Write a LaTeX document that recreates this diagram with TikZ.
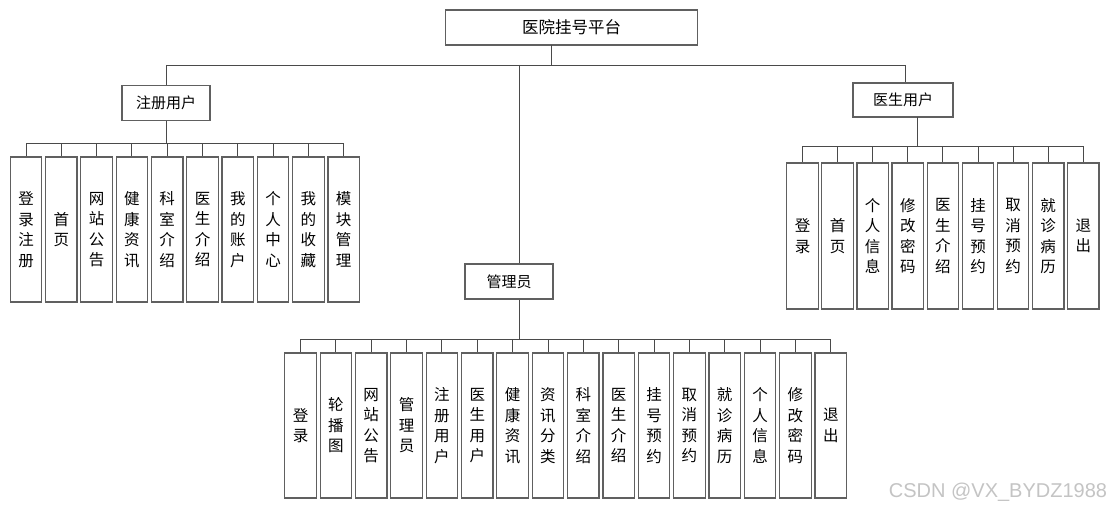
\documentclass[tikz,border=0pt]{standalone}
\usepackage{fontspec}
\setmainfont{Noto Sans CJK SC}
\newfontfamily\wmfont{Liberation Sans}
\begin{document}
\begin{tikzpicture}[x=1pt,y=-1pt,
  box/.style={draw=boxgray,line width=1.2pt,fill=white,inner sep=0pt,align=center},
  hbox/.style={box,font=\fontsize{15pt}{17pt}\selectfont},
  vbox/.style={box,minimum width=31.5pt,font=\fontsize{15.5pt}{20.5pt}\selectfont},
  link/.style={draw=linegray,line width=0.9pt}]
\definecolor{boxgray}{HTML}{606060}
\definecolor{linegray}{HTML}{4A4A4A}
\definecolor{wmgray}{HTML}{C4C4C4}
\fill[white] (0,0) rectangle (1113,511);
\useasboundingbox (0,0) rectangle (1113,511);

% top
\node[hbox,minimum width=252pt,minimum height=35pt,font=\fontsize{16.5pt}{18pt}\selectfont] (top) at (571.7,27.5) {医院挂号平台};
\node[hbox,minimum width=88pt,minimum height=35pt] (reg) at (166,103) {注册用户};
\node[hbox,minimum width=100pt,minimum height=34pt] (doc) at (903,100) {医生用户};
\node[hbox,minimum width=88pt,minimum height=35pt] (adm) at (509,281.5) {管理员};

\coordinate (tdrop) at (551,45);
\coordinate (tbus) at (551,65);
\coordinate (midx) at (519,65);
\coordinate (docx) at (905,65);
\draw[link] (tdrop) -- (tbus);
\draw[link] (reg.north |- tbus) -- (docx);
\draw[link] (reg.north |- tbus) -- (reg.north);
\draw[link] (docx) -- (docx |- doc.north);
\draw[link] (midx) -- (midx |- adm.north);

% registered users
\foreach \t [count=\i] in {{登\\录\\注\\册},{首\\页},{网\\站\\公\\告},{健\\康\\资\\讯},{科\\室\\介\\绍},{医\\生\\介\\绍},{我\\的\\账\\户},{个\\人\\中\\心},{我\\的\\收\\藏},{模\\块\\管\\理}}{
  \node[vbox,minimum height=145pt] (r\i) at ({26+35.3*(\i-1)},229.5) {\t};
}
\coordinate (rbus) at (168,143);
\draw[link] (rbus -| reg.south) -- (reg.south);
\draw[link] (rbus -| r1.north) -- (rbus -| r10.north);
\foreach \i in {1,...,10}{\draw[link] (r\i.north) -- (r\i.north |- rbus);}

% doctor users
\foreach \t [count=\i] in {{登\\录},{首\\页},{个\\人\\信\\息},{修\\改\\密\\码},{医\\生\\介\\绍},{挂\\号\\预\\约},{取\\消\\预\\约},{就\\诊\\病\\历},{退\\出}}{
  \node[vbox,minimum height=146pt] (d\i) at ({802.5+35.1*(\i-1)},236) {\t};
}
\coordinate (ddrop) at (917,117);
\coordinate (dbus) at (917,146);
\draw[link] (ddrop) -- (dbus);
\draw[link] (dbus -| d1.north) -- (dbus -| d9.north);
\foreach \i in {1,...,9}{\draw[link] (d\i.north) -- (d\i.north |- dbus);}

% administrator
\foreach \t [count=\i] in {{登\\录},{轮\\播\\图},{网\\站\\公\\告},{管\\理\\员},{注\\册\\用\\户},{医\\生\\用\\户},{健\\康\\资\\讯},{资\\讯\\分\\类},{科\\室\\介\\绍},{医\\生\\介\\绍},{挂\\号\\预\\约},{取\\消\\预\\约},{就\\诊\\病\\历},{个\\人\\信\\息},{修\\改\\密\\码},{退\\出}}{
  \node[vbox,minimum height=145pt] (a\i) at ({300.5+35.35*(\i-1)},425.5) {\t};
}
\coordinate (abus) at (519,339);
\draw[link] (adm.south -| midx) -- (abus);
\draw[link] (abus -| a1.north) -- (abus -| a16.north);
\foreach \i in {1,...,16}{\draw[link] (a\i.north) -- (a\i.north |- abus);}

% watermark
\node[font=\wmfont\fontsize{20pt}{22pt}\selectfont,text=wmgray,inner sep=0pt] (wm) at (998,492) {CSDN @VX\_BYDZ1988};
\end{tikzpicture}
\end{document}
